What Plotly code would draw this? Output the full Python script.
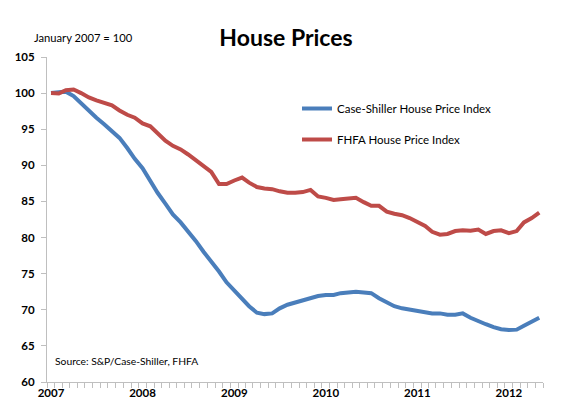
import plotly.graph_objects as go
import pandas as pd

months = pd.date_range("2007-01-01", "2012-05-01", freq="MS").strftime("%Y-%m-%d").tolist()

case_shiller = [
    100.0, 100.1, 100.2, 99.6, 98.6, 97.5, 96.6, 95.7, 94.8, 93.8, 92.4, 90.9,
    89.6, 87.7, 86.2, 84.7, 83.2, 82.1, 80.9, 79.5, 78.0, 76.7, 75.3, 73.8,
    72.6, 71.4, 70.5, 69.6, 69.4, 69.5, 70.2, 70.7, 71.0, 71.3, 71.6, 71.9,
    72.05, 72.05, 72.3, 72.4, 72.5, 72.4, 72.3, 71.6, 71.0, 70.5, 70.2, 70.0,
    69.8, 69.55, 69.5, 69.5, 69.3, 69.3, 69.5, 68.9, 68.4, 68.0, 67.6, 67.3,
    67.2, 67.25, 67.8, 68.3, 68.9,
]

fhfa = [
    100.0, 99.95, 100.4, 100.5, 100.0, 99.4, 99.0, 98.7, 98.3, 97.6, 97.0, 96.6,
    95.8, 95.4, 94.5, 93.4, 92.7, 92.2, 91.5, 90.7, 90.0, 89.1, 87.4, 87.4,
    87.9, 88.3, 87.6, 87.0, 86.8, 86.7, 86.4, 86.2, 86.2, 86.3, 86.6, 85.7,
    85.5, 85.2, 85.3, 85.4, 85.5, 84.9, 84.4, 84.4, 83.6, 83.3, 83.1, 82.7,
    82.2, 81.6, 80.8, 80.4, 80.5, 80.9, 81.0, 80.95, 81.1, 80.5, 80.9, 81.0,
    80.6, 80.9, 82.1, 82.7, 83.45,
]

series_names = ["Case-Shiller House Price Index", "FHFA House Price Index"]
year_ticks = ["2007-01-01", "2008-01-01", "2009-01-01", "2010-01-01", "2011-01-01", "2012-01-01"]
year_labels = ["2007", "2008", "2009", "2010", "2011", "2012"]

FONT = "Lato"
# the page body has an 8px default margin; compensate so the chart fills the 575x417 window
OFF = 8
W, H = 575 - OFF, 417 - OFF

fig = go.Figure()
fig.add_trace(go.Scatter(x=months, y=case_shiller, mode="lines", name=series_names[0],
                         line=dict(color="#4A7EBB", width=4), legendgroup="a"))
fig.add_trace(go.Scatter(x=months, y=fhfa, mode="lines", name=series_names[1],
                         line=dict(color="#BE4B48", width=4), legendgroup="b"))

fig.update_layout(
    width=W, height=H,
    margin=dict(l=47 - OFF, r=32, t=57 - OFF, b=35, autoexpand=False),
    paper_bgcolor="white", plot_bgcolor="white",
    font=dict(family=FONT, color="black", size=12),
    title=dict(text="<b>House Prices</b>", x=(286 - OFF) / W, xanchor="center",
               y=1 - (38 - OFF) / H, yanchor="middle",
               font=dict(size=23, family=FONT, color="black")),
    showlegend=True,
    legend=dict(x=0.504, xanchor="left", y=1 - 37 / 325, yanchor="top",
                bgcolor="rgba(0,0,0,0)", borderwidth=0, traceorder="grouped",
                tracegroupgap=12, itemwidth=30,
                font=dict(size=11.5, family=FONT, color="black")),
    xaxis=dict(
        type="date", range=["2006-12-16", "2012-05-16"], automargin=False,
        tickvals=year_ticks, ticktext=year_labels, ticks="", showgrid=False,
        showline=True, linecolor="#BFBFBF", linewidth=1,
        tickfont=dict(size=11.5, family=FONT, weight="bold"),
        minor=dict(ticks="outside", ticklen=5, tickcolor="#BFBFBF", dtick="M1",
                   tick0="2006-12-16", showgrid=False),
    ),
    yaxis=dict(
        range=[60, 105], dtick=5, tick0=60, ticks="outside", ticklen=5, tickcolor="#BFBFBF",
        automargin=False, ticklabelstandoff=4,
        showgrid=False, showline=True, linecolor="#BFBFBF", linewidth=1, zeroline=False,
        tickfont=dict(size=11.5, family=FONT, weight="bold"),
    ),
)

fig.add_annotation(text="January 2007 = 100", xref="paper", yref="paper",
                   x=-15 / 496, xanchor="left", y=1 + 19 / 325, yanchor="middle",
                   showarrow=False, font=dict(size=11.2, family=FONT, color="black"))
fig.add_annotation(text="Source: S&P/Case-Shiller, FHFA", xref="paper", yref="paper",
                   x=6 / 496, xanchor="left", y=(382 - 361) / 325, yanchor="middle",
                   showarrow=False, font=dict(size=10.3, family=FONT, color="black"))

fig.write_html("out.html")
